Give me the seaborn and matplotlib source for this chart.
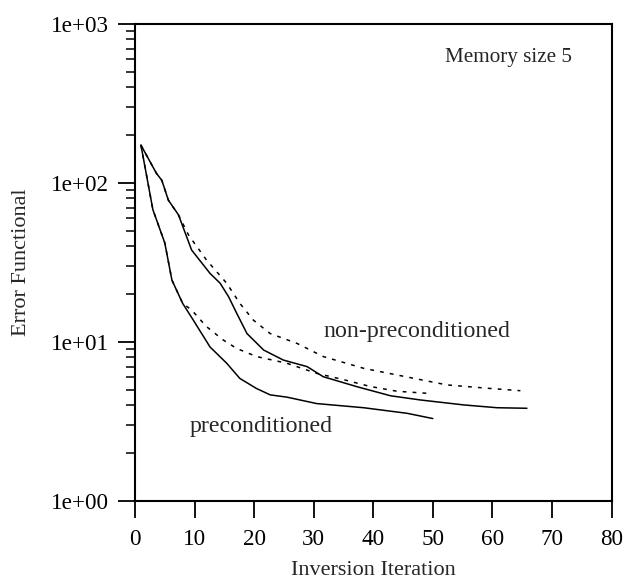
import numpy as np
import pandas as pd
import matplotlib
matplotlib.use("Agg")
import matplotlib.pyplot as plt
import seaborn as sns
from matplotlib.ticker import LogLocator, FixedLocator

# ---- data ----
pre_solid_it = [1, 3, 5, 6.2, 8, 9.8, 12.6, 15.4, 17.6, 20.4, 22.7, 25.5, 30.5, 38.4, 45.7, 50]
pre_solid_err = [173, 68, 42, 24.5, 17.5, 13.7, 9.3, 7.35, 5.9, 5.1, 4.65, 4.5, 4.1, 3.86, 3.56, 3.3]

pre_dot_it = [1, 3, 5, 6.2, 8, 9.5, 12, 14.8, 17.1, 20.4, 25.5, 30.5, 35, 39.5, 44, 49.3]
pre_dot_err = [173, 68, 42, 24.5, 17.5, 15.9, 12.5, 10.3, 9.1, 8.1, 7.35, 6.35, 5.8, 5.25, 4.9, 4.75]

non_solid_it = [1, 3.6, 4.5, 5.6, 7.3, 9.5, 12.6, 14.3, 15.7, 17.1, 18.8, 21.6, 24.9, 28.9, 31.6,
                37.3, 42.9, 47.9, 55.2, 60.8, 65.8]
non_solid_err = [173, 115, 104, 78, 63, 37.9, 27, 23.4, 19.3, 15.1, 11.3, 8.9, 7.7, 7.0, 6.05,
                 5.23, 4.59, 4.32, 4.02, 3.86, 3.83]

non_dot_it = [1, 3.6, 4.5, 5.6, 7.3, 9, 12, 15.4, 17.6, 19.9, 22.7, 27.2, 31.6, 38.4, 46.8,
              52.4, 59.1, 64.7]
non_dot_err = [173, 115, 104, 78, 63, 47, 32.8, 23.4, 17.5, 13.7, 11.3, 9.8, 8.1, 6.83, 5.91,
               5.37, 5.12, 4.94]

x_ticks = [0, 10, 20, 30, 40, 50, 60, 70, 80]
y_ticks = [1, 10, 100, 1000]
y_tick_labels = ["1e+00", "1e+01", "1e+02", "1e+03"]

sns.set_style("ticks")
plt.rcParams['font.family'] = ['Liberation Serif', 'DejaVu Serif']

fig = plt.figure(figsize=(6.27, 5.83), dpi=100)
ax = fig.add_axes([135 / 627, 1 - 501 / 583, (611.5 - 135) / 627, (501 - 24) / 583])

dotted = (0, (2.5, 4))
series = [
    (pre_solid_it, pre_solid_err, "-"),
    (pre_dot_it, pre_dot_err, dotted),
    (non_solid_it, non_solid_err, "-"),
    (non_dot_it, non_dot_err, dotted),
]
for xs, ys, ls in series:
    df = pd.DataFrame({"it": xs, "err": ys})
    sns.lineplot(data=df, x="it", y="err", ax=ax, color="black", linewidth=1.1,
                 linestyle=ls, sort=False, estimator=None)

ax.set_yscale("log")
ax.set_xlim(0, 80)
ax.set_ylim(1, 1000)
ax.xaxis.set_major_locator(FixedLocator(x_ticks))
ax.set_xticklabels([str(t) for t in x_ticks])
ax.yaxis.set_major_locator(FixedLocator(y_ticks))
ax.set_yticklabels(y_tick_labels)
ax.yaxis.set_minor_locator(LogLocator(base=10, subs=np.arange(2, 10)))
ax.yaxis.set_minor_formatter(plt.NullFormatter())

for s in ax.spines.values():
    s.set_linewidth(1.5)
    s.set_color("black")
ax.tick_params(axis="both", which="major", direction="out", length=12, width=1.3,
               labelsize=16.7, color="black", labelcolor="black")
ax.tick_params(axis="y", which="major", pad=7)
ax.tick_params(axis="x", which="major", pad=8)
ax.tick_params(axis="y", which="minor", direction="out", length=6.5, width=1.1, color="black")

ax.set_xlabel("Inversion Iteration", fontsize=16, labelpad=8)
ax.set_ylabel("Error Functional", fontsize=16, labelpad=14)

ax.text(73.4, 620, "Memory size 5", fontsize=15.2, ha="right", va="center")
ax.text(31.6, 11.6, "non-preconditioned", fontsize=17.2, ha="left", va="center")
ax.text(9.2, 2.93, "preconditioned", fontsize=17.2, ha="left", va="center")

fig.savefig("out.png", dpi=100, facecolor="white")
